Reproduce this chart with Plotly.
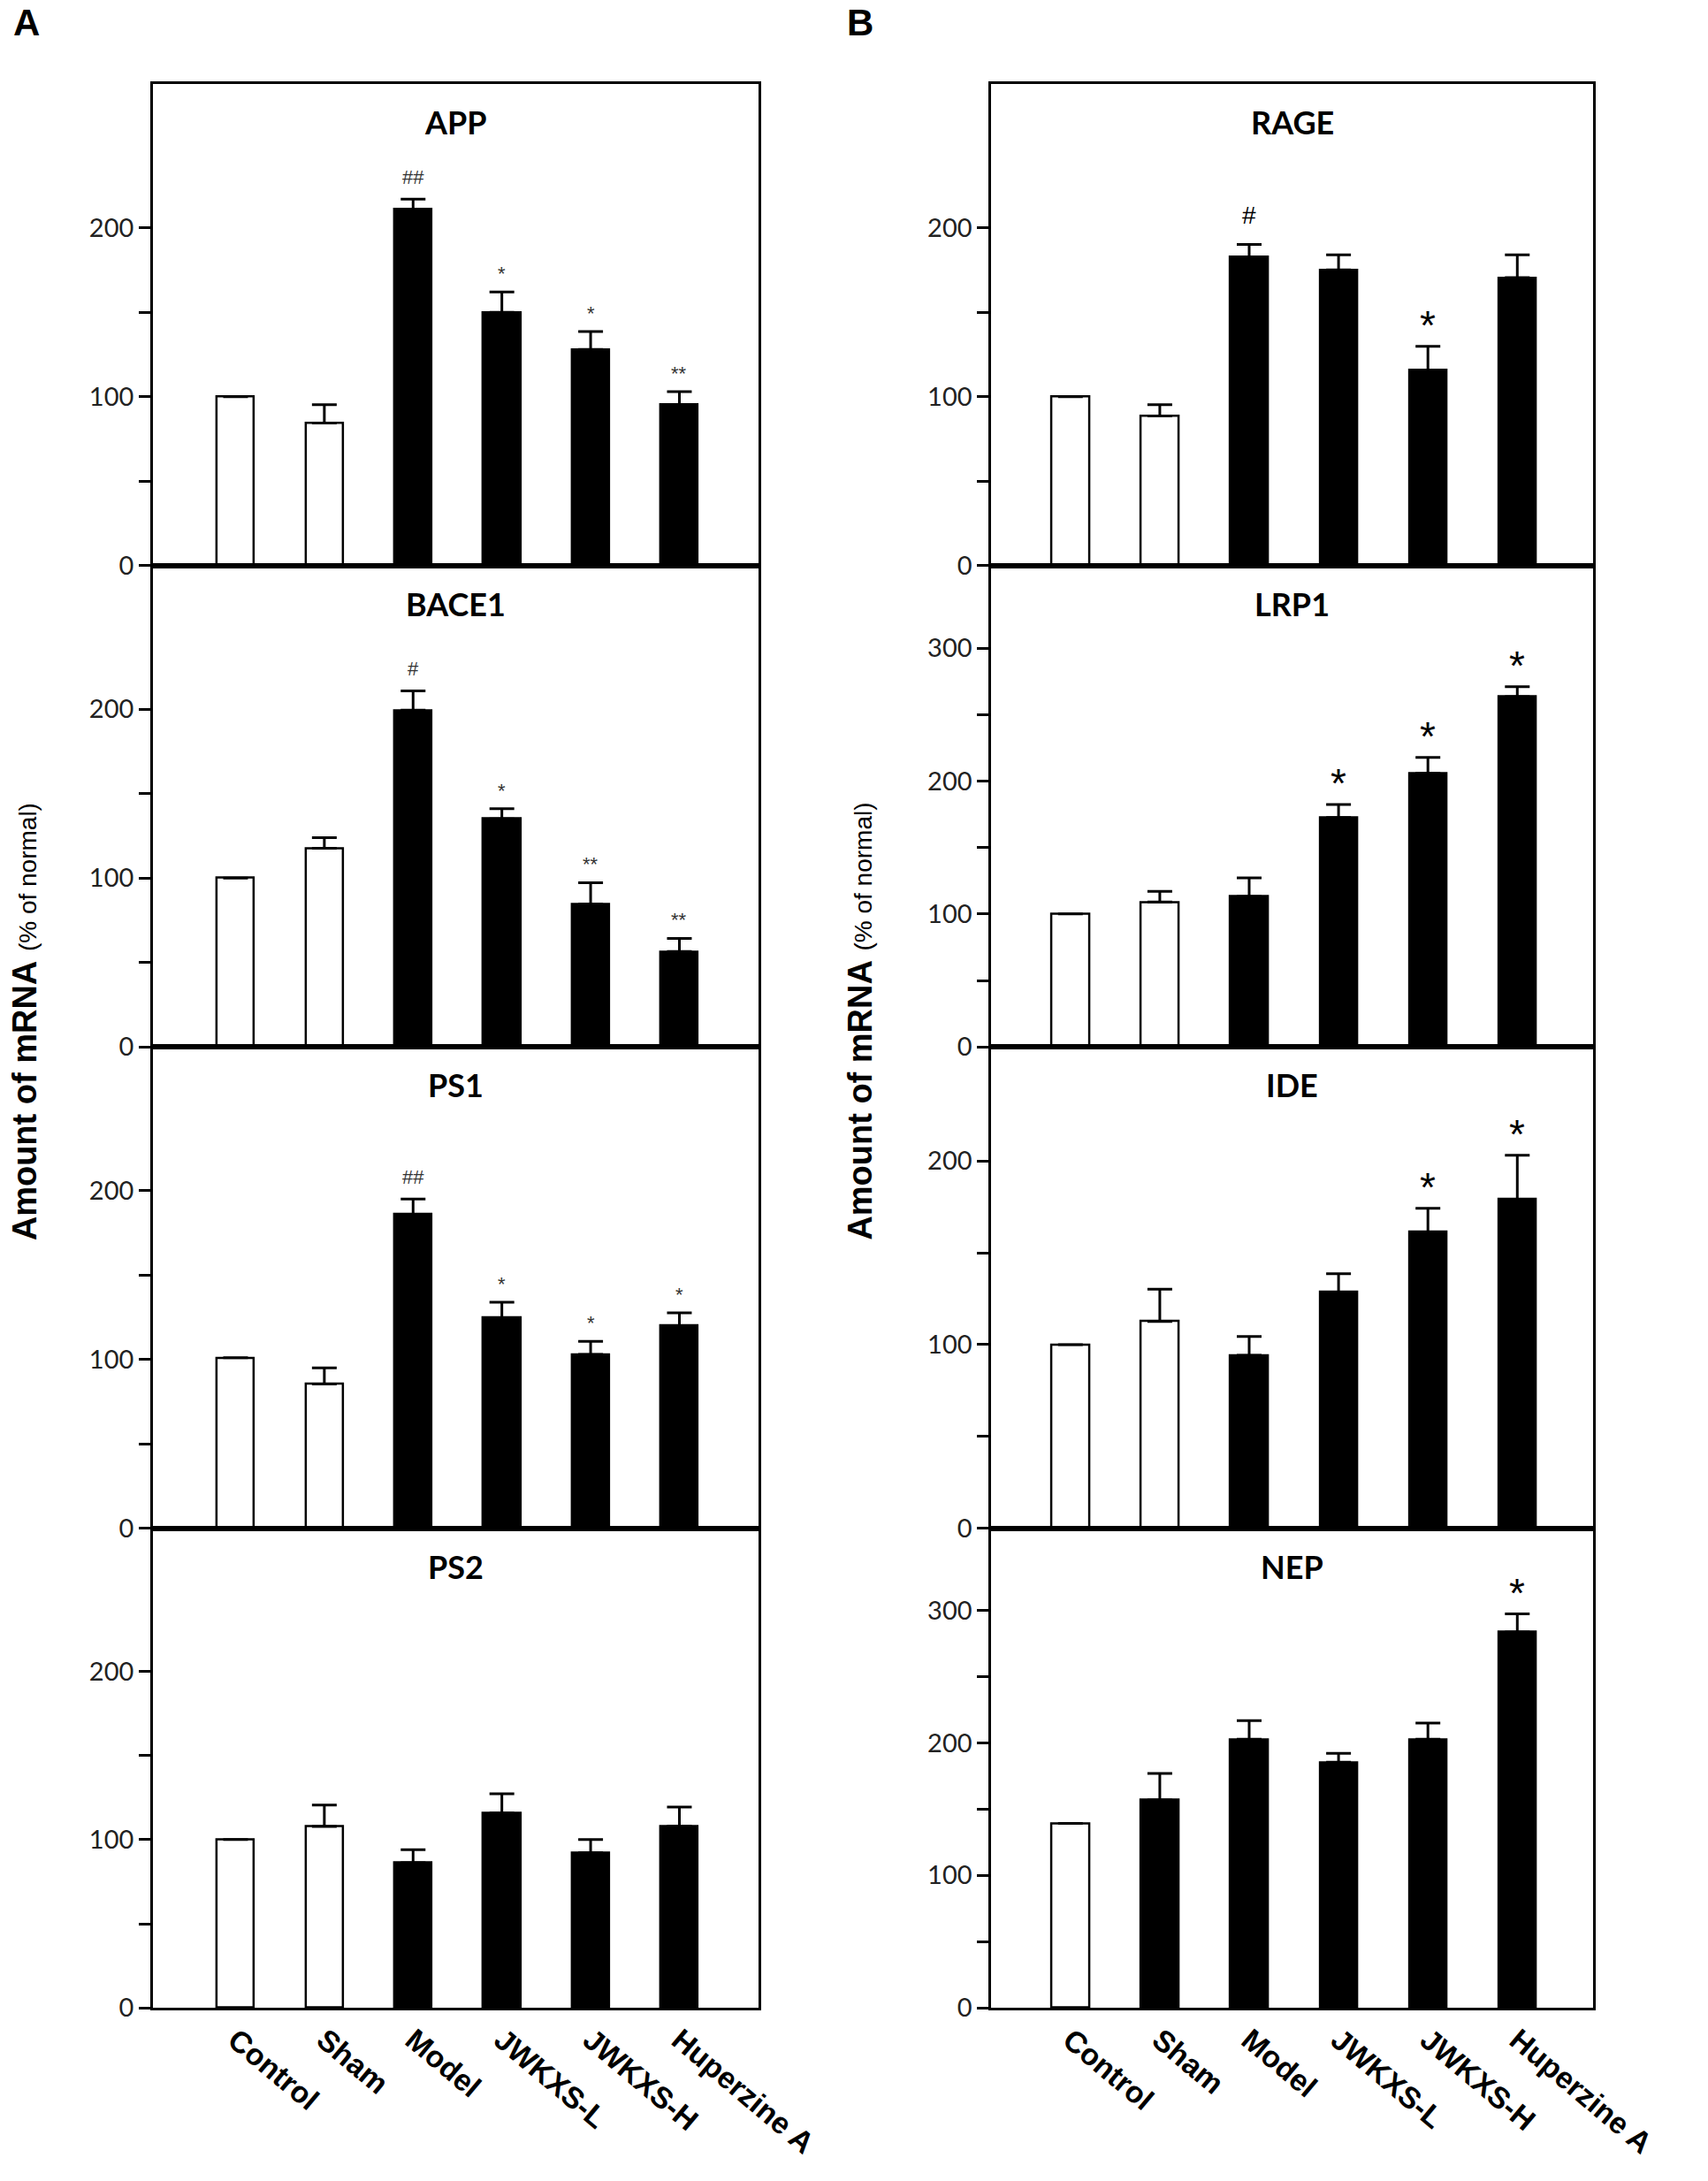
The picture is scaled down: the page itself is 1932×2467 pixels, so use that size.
import plotly.graph_objects as go
from plotly.subplots import make_subplots

W, H = 1932, 2467

groups = ['Control', 'Sham', 'Model', 'JWKXS-L', 'JWKXS-H', 'Huperzine A']

# panel A
app_mean = [100, 84.4, 211, 150, 128, 95.3]
app_err = [0, 10.9, 6, 12, 10.6, 7.7]
app_sig = ['', '', '##', '*', '*', '**']

bace1_mean = [100, 117.7, 199.4, 135.1, 84.7, 56.5]
bace1_err = [0, 6.3, 11.4, 6, 12.6, 7.8]
bace1_sig = ['', '', '#', '*', '**', '**']

ps1_mean = [101, 85.5, 186, 124.6, 103, 119.9]
ps1_err = [0, 9.5, 9, 9.2, 7.7, 7.7]
ps1_sig = ['', '', '##', '*', '*', '*']

ps2_mean = [100, 107.8, 86.2, 115.8, 92.2, 108]
ps2_err = [0, 12.8, 7.8, 11.4, 7.8, 11.4]
ps2_sig = ['', '', '', '', '', '']

# panel B
rage_mean = [100, 88.6, 182.8, 175.1, 115.8, 170.5]
rage_err = [0, 6.7, 7.4, 8.9, 14, 13.5]
rage_sig = ['', '', '#', '', '*', '']

lrp1_mean = [100, 109, 113.2, 172.5, 206, 263.4]
lrp1_err = [0, 8, 14, 9.8, 11.7, 7.6]
lrp1_sig = ['', '', '', '*', '*', '*']

ide_mean = [100, 112.6, 94.2, 128.6, 161.3, 179]
ide_err = [0, 17.5, 10.2, 10, 12.9, 24]
ide_sig = ['', '', '', '', '*', '*']

nep_mean = [139.2, 157, 202.8, 185.4, 202.8, 283.8]
nep_err = [0, 20, 14, 6.8, 12.2, 13.6]
nep_sig = ['', '', '', '', '', '*']

# how many leading bars are open (white)
open_bars = {'APP': 2, 'BACE1': 2, 'PS1': 2, 'PS2': 2,
             'RAGE': 2, 'LRP1': 2, 'IDE': 2, 'NEP': 1}

panels = [
    # name, row, col, mean, err, sig, ymax, labelled ticks
    ('APP', 1, 1, app_mean, app_err, app_sig, 285, [0, 100, 200]),
    ('BACE1', 2, 1, bace1_mean, bace1_err, bace1_sig, 285, [0, 100, 200]),
    ('PS1', 3, 1, ps1_mean, ps1_err, ps1_sig, 285, [0, 100, 200]),
    ('PS2', 4, 1, ps2_mean, ps2_err, ps2_sig, 285, [0, 100, 200]),
    ('RAGE', 1, 2, rage_mean, rage_err, rage_sig, 285, [0, 100, 200]),
    ('LRP1', 2, 2, lrp1_mean, lrp1_err, lrp1_sig, 362, [0, 100, 200, 300]),
    ('IDE', 3, 2, ide_mean, ide_err, ide_sig, 262, [0, 100, 200]),
    ('NEP', 4, 2, nep_mean, nep_err, nep_sig, 362, [0, 100, 200, 300]),
]

# layout in pixels
row_edges = [96, 644, 1192, 1740, 2286]
col_x = {1: (180, 892), 2: (1166, 1874)}
col_xrange = {1: [-0.93, 5.89], 2: [-0.885, 5.85]}

fig = make_subplots(rows=4, cols=2, vertical_spacing=0, horizontal_spacing=0.1)

for name, r, c, mean, err, sig, ymax, major in panels:
    n_open = open_bars[name]
    colors = ['white'] * n_open + ['black'] * (len(groups) - n_open)
    fig.add_trace(go.Bar(
        x=list(range(len(groups))), y=mean, width=0.42,
        marker=dict(color=colors, line=dict(color='black', width=2.5)),
        error_y=dict(type='data', symmetric=False, array=err,
                     arrayminus=[0] * len(err), color='black',
                     thickness=3, width=14),
        showlegend=False, hoverinfo='skip'), row=r, col=c)

    x0, x1 = col_x[c]
    fig.update_xaxes(domain=[x0 / W, x1 / W], range=col_xrange[c],
                     tickvals=list(range(len(groups))), ticktext=groups,
                     showticklabels=(r == 4), tickangle=40, ticks='',
                     tickfont=dict(family='Liberation Sans', size=34,
                                   color='black', weight='bold'),
                     showline=True, linecolor='black', linewidth=3,
                     mirror=True, showgrid=False, zeroline=False,
                     row=r, col=c)

    top, bot = row_edges[r - 1], row_edges[r]
    last = max(major)
    tv = list(range(0, last + 1, 50))
    fig.update_yaxes(domain=[1 - bot / H, 1 - top / H], range=[0, ymax],
                     tickvals=tv,
                     ticktext=[str(v) if v in major else '' for v in tv],
                     ticks='outside', ticklen=13, tickwidth=2.5,
                     tickcolor='black',
                     tickfont=dict(family='Lato', size=29, color='#222'),
                     showline=True, linecolor='black', linewidth=3,
                     mirror=True, showgrid=False, zeroline=False,
                     row=r, col=c)

    k = (r - 1) * 2 + c
    xr = 'x' if k == 1 else 'x%d' % k
    yr = 'y' if k == 1 else 'y%d' % k

    # gene title
    fig.add_annotation(text='<b>%s</b>' % name, x=0.5, y=1,
                       xref=xr + ' domain', yref=yr + ' domain',
                       yanchor='middle', yshift=-43, showarrow=False,
                       font=dict(family='Lato', size=36, color='black'))

    # significance marks
    for i, s in enumerate(sig):
        if not s:
            continue
        if c == 1:
            fs, off = 22, 25
            colr = '#333'
        else:
            fs = 46 if '*' in s else 28
            off = 33
            colr = 'black'
        shift = off - (0.2 * fs if '*' in s else 0)
        fig.add_annotation(text=s, x=i, y=mean[i] + err[i], xref=xr, yref=yr,
                           yanchor='middle', yshift=shift, showarrow=False,
                           font=dict(family='Liberation Sans', size=fs,
                                     color=colr))

ytitle = ('<b>Amount of mRNA</b> '
          '<span style="font-size:28px">(% of normal)</span>')
for xp in [30, 1012]:
    fig.add_annotation(text=ytitle, x=xp / W, y=1 - 1163 / H,
                       xref='paper', yref='paper', textangle=-90,
                       showarrow=False, xanchor='center', yanchor='middle',
                       font=dict(family='Liberation Sans', size=38,
                                 color='black'))

for lab, xp in [('A', 13), ('B', 994)]:
    fig.add_annotation(text='<b>%s</b>' % lab, x=xp / W, y=1,
                       xref='paper', yref='paper', xanchor='left',
                       yanchor='top', showarrow=False,
                       font=dict(family='Liberation Sans', size=42,
                                 color='black'))

fig.update_layout(width=W, height=H, margin=dict(l=0, r=0, t=0, b=0),
                  plot_bgcolor='white', paper_bgcolor='white',
                  bargap=0)

fig.write_html('out.html', config={'displayModeBar': False},
               post_script="document.body.style.margin='0';")
